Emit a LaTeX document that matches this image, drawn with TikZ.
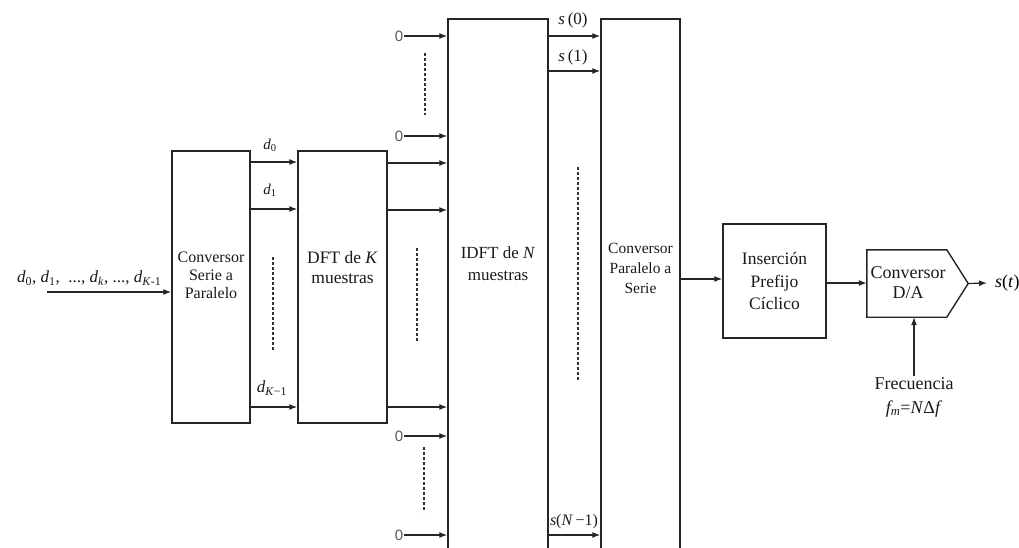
\documentclass[tikz,border=0pt]{standalone}
\usepackage{fontspec}
\setmainfont{Liberation Serif}
\newfontfamily\zerofont{Liberation Sans}
\usetikzlibrary{arrows.meta,calc}
\begin{document}
\begin{tikzpicture}[x=1pt,y=-1pt,
 blk/.style={draw=black!85, line width=1.4pt, inner sep=0pt},
 arr/.style={draw=black!85, line width=1.2pt, -{Latex[length=8pt,width=6pt]}},
 dsh/.style={draw=black!80, line width=1.2pt, dash pattern=on 3pt off 2pt},
 zero/.style={font=\zerofont\fontsize{15}{15}\selectfont, text=black!65, inner sep=1pt},
 lbl/.style={inner sep=1pt, align=center, text=black!90},
]
\useasboundingbox (0,0) rectangle (1019,548);
\clip (0,0) rectangle (1019,548);

% boxes
\node[blk, minimum width=78, minimum height=272] (sp) at (211,287) {};
\node[blk, minimum width=89, minimum height=272] (dft) at (342.5,287) {};
\node[blk, minimum width=100, minimum height=560] (idft) at (498,299) {};
\node[blk, minimum width=79, minimum height=560] (ps) at (640.5,299) {};
\node[blk, minimum width=103, minimum height=114] (cp) at (774.5,281) {};
\node[minimum width=101, minimum height=67, inner sep=0pt] (da) at (917.5,283.5) {};
\draw[draw=black!85, line width=1.4pt] (da.north west) -- ($(da.north west)+(80,0)$) -- (da.east)
  -- ($(da.south west)+(80,0)$) -- (da.south west) -- cycle;

% box texts
\node[lbl, font=\fontsize{16}{18}\selectfont] (spt) at (211,275) {Conversor\\Serie a\\Paralelo};
\node[lbl, font=\fontsize{17.5}{20}\selectfont] (dftt) at (342.5,268) {DFT de \textit{K}\\muestras};
\node[lbl, font=\fontsize{17}{22}\selectfont] (idftt) at (498,264) {IDFT de \textit{N}\\muestras};
\node[lbl, font=\fontsize{15.5}{20}\selectfont] (pst) at (640.5,268) {Conversor\\Paralelo a\\Serie};
\node[lbl, font=\fontsize{17.5}{22.5}\selectfont] (cpt) at (774.5,281) {Inserción\\Prefijo\\Cíclico};
\node[lbl, font=\fontsize{18}{20}\selectfont] (dat) at (908,283) {Conversor\\D/A};

% input
\coordinate (in) at (47,292);
\node[lbl, anchor=west, font=\fontsize{17}{17}\selectfont] (inl) at (16,278)
  {\textit{d}\textsubscript{0}, \textit{d}\textsubscript{1}, \ ..., \textit{d}\textsubscript{\textit{k}}, ..., \textit{d}\textsubscript{\textit{K}-1}};
\draw[arr] (in) -- (in -| sp.west);

% S/P -> DFT
\draw[arr] (sp.east |- 0,162) -- (dft.west |- 0,162);
\draw[arr] (sp.east |- 0,209) -- (dft.west |- 0,209);
\draw[arr] (sp.east |- 0,407) -- (dft.west |- 0,407);
\node[lbl, font=\fontsize{15}{15}\selectfont] (d0) at (270,145) {\textit{d}\textsubscript{0}};
\node[lbl, font=\fontsize{15}{15}\selectfont] (d1) at (270,190) {\textit{d}\textsubscript{1}};
\node[lbl, font=\fontsize{17}{17}\selectfont] (dk) at (272,388) {\textit{d}\textsubscript{\textit{K}−1}};
\draw[dsh] (273,257) -- (273,350);

% DFT -> IDFT
\draw[arr] (dft.east |- 0,163) -- (idft.west |- 0,163);
\draw[arr] (dft.east |- 0,210) -- (idft.west |- 0,210);
\draw[arr] (dft.east |- 0,407) -- (idft.west |- 0,407);
\draw[dsh] (417,248) -- (417,343);

% zeros
\node[zero] (z1) at (399,36) {0};
\node[zero] (z2) at (399,136) {0};
\node[zero] (z3) at (399,436) {0};
\node[zero] (z4) at (399,535) {0};
\draw[arr] (z1.east) -- (z1.east -| idft.west);
\draw[arr] (z2.east) -- (z2.east -| idft.west);
\draw[arr] (z3.east) -- (z3.east -| idft.west);
\draw[arr] (z4.east) -- (z4.east -| idft.west);
\draw[dsh] (425,53) -- (425,115);
\draw[dsh] (424,447) -- (424,512);

% IDFT -> P/S
\draw[arr] (idft.east |- 0,36) -- (ps.west |- 0,36);
\draw[arr] (idft.east |- 0,71) -- (ps.west |- 0,71);
\draw[arr] (idft.east |- 0,535) -- (ps.west |- 0,535);
\node[lbl, font=\fontsize{17}{17}\selectfont] (s0) at (573,20) {\textit{s}\,(0)};
\node[lbl, font=\fontsize{17}{17}\selectfont] (s1) at (573,57) {\textit{s}\,(1)};
\node[lbl, font=\fontsize{16}{16}\selectfont] (sn) at (574,522) {\textit{s}(\textit{N}\,−1)};
\draw[dsh] (578,167) -- (578,380);

% P/S -> CP -> D/A
\draw[arr] (ps.east |- 0,279) -- (cp.west |- 0,279);
\draw[arr] (cp.east |- 0,283) -- (da.west |- 0,283);

% output
\node[anchor=west, inner xsep=8pt, inner ysep=1pt, font=\fontsize{18}{18}\selectfont] (st) at (987,283) {\textit{s}(\textit{t})};
\draw[arr] (da.east) -- (st.west);

% frequency
\node[lbl, font=\fontsize{18}{24}\selectfont] (freq) at (914,397) {Frecuencia\\\textit{f\textsubscript{m}}=\textit{N}Δ\textit{f}};
\draw[arr] (freq.north) -- (freq.north |- da.south);
\end{tikzpicture}
\end{document}
